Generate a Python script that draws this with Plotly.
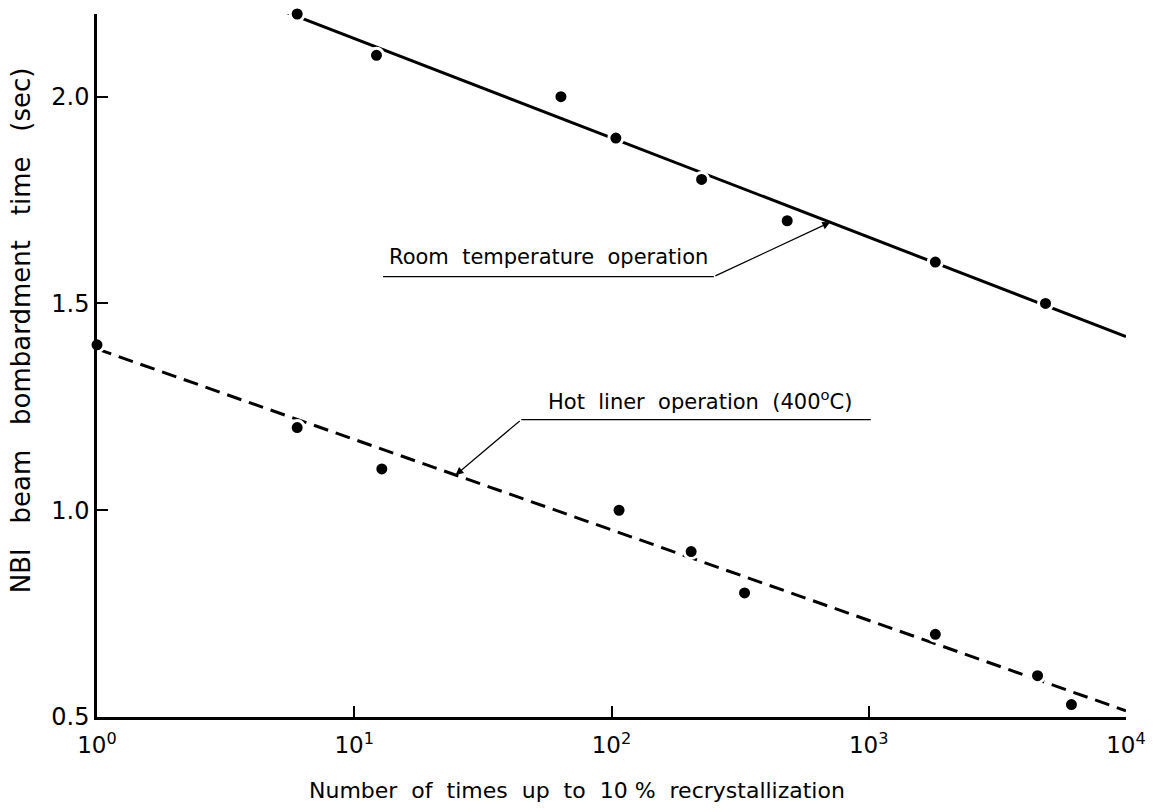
import math
import plotly.graph_objects as go

# Measured recrystallization data
room_x = [6, 12.2, 63.6, 104, 224, 482, 1815, 4865]
room_y = [2.2, 2.1, 2.0, 1.9, 1.8, 1.7, 1.6, 1.5]

hot_x = [1, 6, 12.8, 107, 204, 329, 1815, 4530, 6136]
hot_y = [1.4, 1.2, 1.1, 1.0, 0.9, 0.8, 0.7, 0.6, 0.53]

# Fitted trend lines (end points)
room_fit_x = [5.4, 10000]
room_fit_y = [2.205, 1.42]
hot_fit_x = [1, 10000]
hot_fit_y = [1.39, 0.515]

x_tickvals = [1, 10, 100, 1000, 10000]
x_ticktext = ["10<sup>0</sup>", "10<sup>1</sup>", "10<sup>2</sup>", "10<sup>3</sup>", "10<sup>4</sup>"]
y_tickvals = [0.5, 1.0, 1.5, 2.0]
y_ticktext = ["0.5", "1.0", "1.5", "2.0"]

FONT = "DejaVu Sans"
INK = "black"

fig = go.Figure()

fig.add_trace(go.Scatter(x=room_fit_x, y=room_fit_y, mode="lines",
                         line=dict(color=INK, width=3), hoverinfo="skip"))
fig.add_trace(go.Scatter(x=hot_fit_x, y=hot_fit_y, mode="lines",
                         line=dict(color=INK, width=3, dash="15px,8px"), hoverinfo="skip"))
fig.add_trace(go.Scatter(x=room_x, y=room_y, mode="markers", cliponaxis=False,
                         marker=dict(color=INK, size=14, line=dict(color="white", width=3))))
fig.add_trace(go.Scatter(x=hot_x, y=hot_y, mode="markers", cliponaxis=False,
                         marker=dict(color=INK, size=14, line=dict(color="white", width=3))))


def on_fit(fx, fy, lx):
    """Value of a fitted line at log10(x) = lx."""
    a0, a1 = math.log10(fx[0]), math.log10(fx[1])
    t = (lx - a0) / (a1 - a0)
    return fy[0] + t * (fy[1] - fy[0])


# Label leaders: underline + arrow to the fitted line (positions in log10 x)
labels = [
    dict(text="Room  temperature  operation", fx=room_fit_x, fy=room_fit_y,
         u0=1.112, u1=2.398, uy=1.565, tip=2.85, tx=1.757, ty=1.612),
    dict(text="Hot  liner  operation  (400<sup>o</sup>C)", fx=hot_fit_x, fy=hot_fit_y,
         u0=1.649, u1=3.008, uy=1.219, tip=1.394, tx=2.344, ty=1.266),
]

shapes = []
annotations = []
for lab in labels:
    shapes.append(dict(type="line", xref="x", yref="y",
                       x0=10 ** lab["u0"], x1=10 ** lab["u1"], y0=lab["uy"], y1=lab["uy"],
                       line=dict(color=INK, width=1.3)))
    # the leader starts at the end of the underline nearest to the line
    tail = lab["u1"] if lab["tip"] > lab["u1"] else lab["u0"]
    annotations.append(dict(x=lab["tip"], y=on_fit(lab["fx"], lab["fy"], lab["tip"]),
                            xref="x", yref="y", axref="x", ayref="y",
                            ax=tail, ay=lab["uy"], text="", showarrow=True,
                            arrowhead=2, arrowsize=1.3, arrowwidth=1.2,
                            arrowcolor=INK, standoff=0))
    annotations.append(dict(x=lab["tx"], y=lab["ty"], xref="x", yref="y",
                            xanchor="center", yanchor="middle",
                            text=lab["text"], showarrow=False,
                            font=dict(family=FONT, size=21, color=INK)))

annotations.append(dict(x=-0.074, y=0.55, xref="paper", yref="paper",
                        xanchor="center", yanchor="middle",
                        text="NBI   beam   bombardment   time   (sec)", textangle=-90,
                        showarrow=False, font=dict(family=FONT, size=26, color=INK)))
annotations.append(dict(x=0.466, y=-0.104, xref="paper", yref="paper",
                        xanchor="center", yanchor="middle",
                        text="Number  of  times  up  to  10 %  recrystallization",
                        showarrow=False, font=dict(family=FONT, size=22, color=INK)))

fig.update_layout(
    width=1158, height=808,
    margin=dict(l=97, r=25, t=14, b=91),
    paper_bgcolor="white", plot_bgcolor="white",
    showlegend=False,
    shapes=shapes,
    annotations=annotations,
    xaxis=dict(type="log", range=[0, 4], tickvals=x_tickvals, ticktext=x_ticktext,
               ticks="inside", ticklen=11, tickwidth=2, tickcolor=INK,
               ticklabelstandoff=6,
               showline=True, linecolor=INK, linewidth=2.5, showgrid=False,
               zeroline=False, tickfont=dict(family=FONT, size=23, color=INK)),
    yaxis=dict(range=[0.5, 2.2], tickvals=y_tickvals, ticktext=y_ticktext,
               ticks="inside", ticklen=11, tickwidth=2, tickcolor=INK,
               showline=True, linecolor=INK, linewidth=2.5, showgrid=False,
               zeroline=False, tickfont=dict(family=FONT, size=24, color=INK)),
)

fig.write_html("out.html")
